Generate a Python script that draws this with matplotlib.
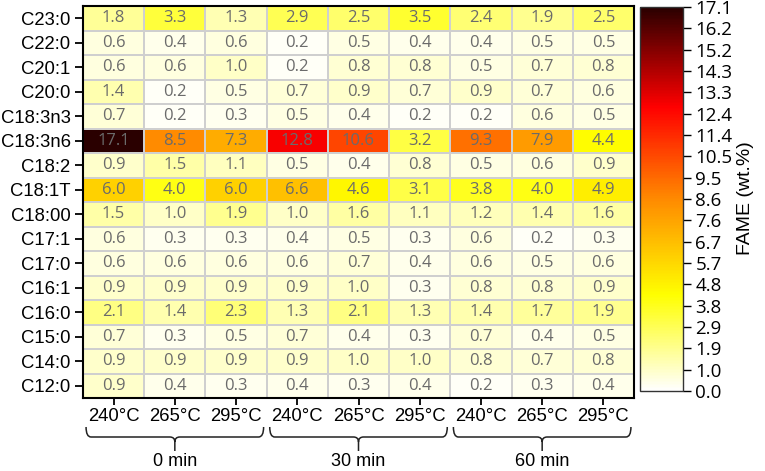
import numpy as np
import matplotlib
matplotlib.use("Agg")
import matplotlib.pyplot as plt
from matplotlib.colors import LinearSegmentedColormap
from matplotlib.path import Path
from matplotlib.patches import PathPatch

# ---- data (rows listed top to bottom) ----
fames = ["C23:0", "C22:0", "C20:1", "C20:0", "C18:3n3", "C18:3n6", "C18:2",
         "C18:1T", "C18:00", "C17:1", "C17:0", "C16:1", "C16:0", "C15:0",
         "C14:0", "C12:0"]
temps = ["240°C", "265°C", "295°C"] * 3
times = ["0 min", "30 min", "60 min"]

values = np.array([
    [1.8, 3.3, 1.3, 2.9, 2.5, 3.5, 2.4, 1.9, 2.5],
    [0.6, 0.4, 0.6, 0.2, 0.5, 0.4, 0.4, 0.5, 0.5],
    [0.6, 0.6, 1.0, 0.2, 0.8, 0.8, 0.5, 0.7, 0.8],
    [1.4, 0.2, 0.5, 0.7, 0.9, 0.7, 0.9, 0.7, 0.6],
    [0.7, 0.2, 0.3, 0.5, 0.4, 0.2, 0.2, 0.6, 0.5],
    [17.1, 8.5, 7.3, 12.8, 10.6, 3.2, 9.3, 7.9, 4.4],
    [0.9, 1.5, 1.1, 0.5, 0.4, 0.8, 0.5, 0.6, 0.9],
    [6.0, 4.0, 6.0, 6.6, 4.6, 3.1, 3.8, 4.0, 4.9],
    [1.5, 1.0, 1.9, 1.0, 1.6, 1.1, 1.2, 1.4, 1.6],
    [0.6, 0.3, 0.3, 0.4, 0.5, 0.3, 0.6, 0.2, 0.3],
    [0.6, 0.6, 0.6, 0.6, 0.7, 0.4, 0.6, 0.5, 0.6],
    [0.9, 0.9, 0.9, 0.9, 1.0, 0.3, 0.8, 0.8, 0.9],
    [2.1, 1.4, 2.3, 1.3, 2.1, 1.3, 1.4, 1.7, 1.9],
    [0.7, 0.3, 0.5, 0.7, 0.4, 0.3, 0.7, 0.4, 0.5],
    [0.9, 0.9, 0.9, 0.9, 1.0, 1.0, 0.8, 0.7, 0.8],
    [0.9, 0.4, 0.3, 0.4, 0.3, 0.4, 0.2, 0.3, 0.4],
])

cbar_ticks = np.linspace(0, 17.1, 19)
cbar_labels = ["0.0", "1.0", "1.9", "2.9", "3.8", "4.8", "5.7", "6.7", "7.6",
               "8.6", "9.5", "10.5", "11.4", "12.4", "13.3", "14.3", "15.2",
               "16.2", "17.1"]

# ---- style ----
W, H = 765, 471
cmap = LinearSegmentedColormap.from_list(
    "fame",
    [(0.0, "#ffffff"), (0.25, "#ffff00"), (0.5, "#ff8a00"),
     (0.74, "#ff0000"), (1.0, "#2a0000")],
)
label_font = "Liberation Sans"
num_font = "Open Sans"

plt.rcParams.update({"font.family": label_font})

fig = plt.figure(figsize=(W / 100, H / 100), dpi=100)

ax_l, ax_r, ax_t, ax_b = 83, 634, 6, 398
ax = fig.add_axes([ax_l / W, 1 - ax_b / H, (ax_r - ax_l) / W, (ax_b - ax_t) / H])
cax = fig.add_axes([640 / W, 1 - 391 / H, 43 / W, 384 / H])

nrows, ncols = values.shape
mesh = ax.pcolormesh(
    np.arange(ncols + 1) - 0.5,
    np.arange(nrows + 1) - 0.5,
    values,
    cmap=cmap,
    vmin=0,
    vmax=17.1,
    edgecolors="#cfcfcf",
    linewidth=1.2,
)
ax.set_xlim(-0.5, ncols - 0.5)
ax.set_ylim(nrows - 0.5, -0.5)

for i in range(nrows):
    for j in range(ncols):
        ax.text(j, i, f"{values[i, j]:.1f}", ha="center", va="center",
                fontsize=12, color="#6b6b6b", family=num_font)

ax.set_yticks(np.arange(nrows))
ax.set_yticklabels(fames, fontsize=13.3)
ax.set_xticks(np.arange(ncols))
ax.set_xticklabels(temps, fontsize=13.3)
ax.tick_params(axis="y", length=6, width=1.3, pad=3)
ax.tick_params(axis="x", length=5, width=1.3, pad=2)
for s in ax.spines.values():
    s.set_linewidth(1.5)
    s.set_color("black")

# ---- colorbar ----
cb = fig.colorbar(mesh, cax=cax)
cb.set_ticks(cbar_ticks)
cb.set_ticklabels(cbar_labels)
cb.outline.set_linewidth(1.0)
cb.outline.set_edgecolor("#333333")
cax.tick_params(length=6, width=1.0, pad=3, labelsize=13.5)
for t in cax.get_yticklabels():
    t.set_family(num_font)
fig.text(745 / W, 1 - 198 / H, "FAME (wt.%)", rotation=90, ha="center",
         va="center", fontsize=14)


# ---- braces under the temperature groups ----
def to_px(xd):
    return ax_l + (xd + 0.5) / ncols * (ax_r - ax_l)


def brace(x0, x1, y_top=427, y_mid=437, y_tip=451, r=5):
    xc = (x0 + x1) / 2
    pts = [
        (x0, y_top), (x0, y_mid), (x0 + r, y_mid), (xc - r, y_mid),
        (xc, y_mid), (xc, y_mid + r), (xc, y_tip),
        (x1, y_top), (x1, y_mid), (x1 - r, y_mid), (xc + r, y_mid),
        (xc, y_mid), (xc, y_mid + r),
    ]
    codes = [Path.MOVETO, Path.CURVE3, Path.CURVE3, Path.LINETO,
             Path.CURVE3, Path.CURVE3, Path.LINETO,
             Path.MOVETO, Path.CURVE3, Path.CURVE3, Path.LINETO,
             Path.CURVE3, Path.CURVE3]
    verts = [(px / W, 1 - py / H) for px, py in pts]
    fig.add_artist(PathPatch(Path(verts, codes), transform=fig.transFigure,
                             fill=False, edgecolor="#222222", linewidth=1.1))


for g, name in enumerate(times):
    c = to_px(3 * g + 1)
    half = 1.45 * (ax_r - ax_l) / ncols
    brace(c - half, c + half)
    fig.text(c / W, 1 - 461 / H, name, ha="center", va="center", fontsize=13)

fig.savefig("out.png", dpi=100)
